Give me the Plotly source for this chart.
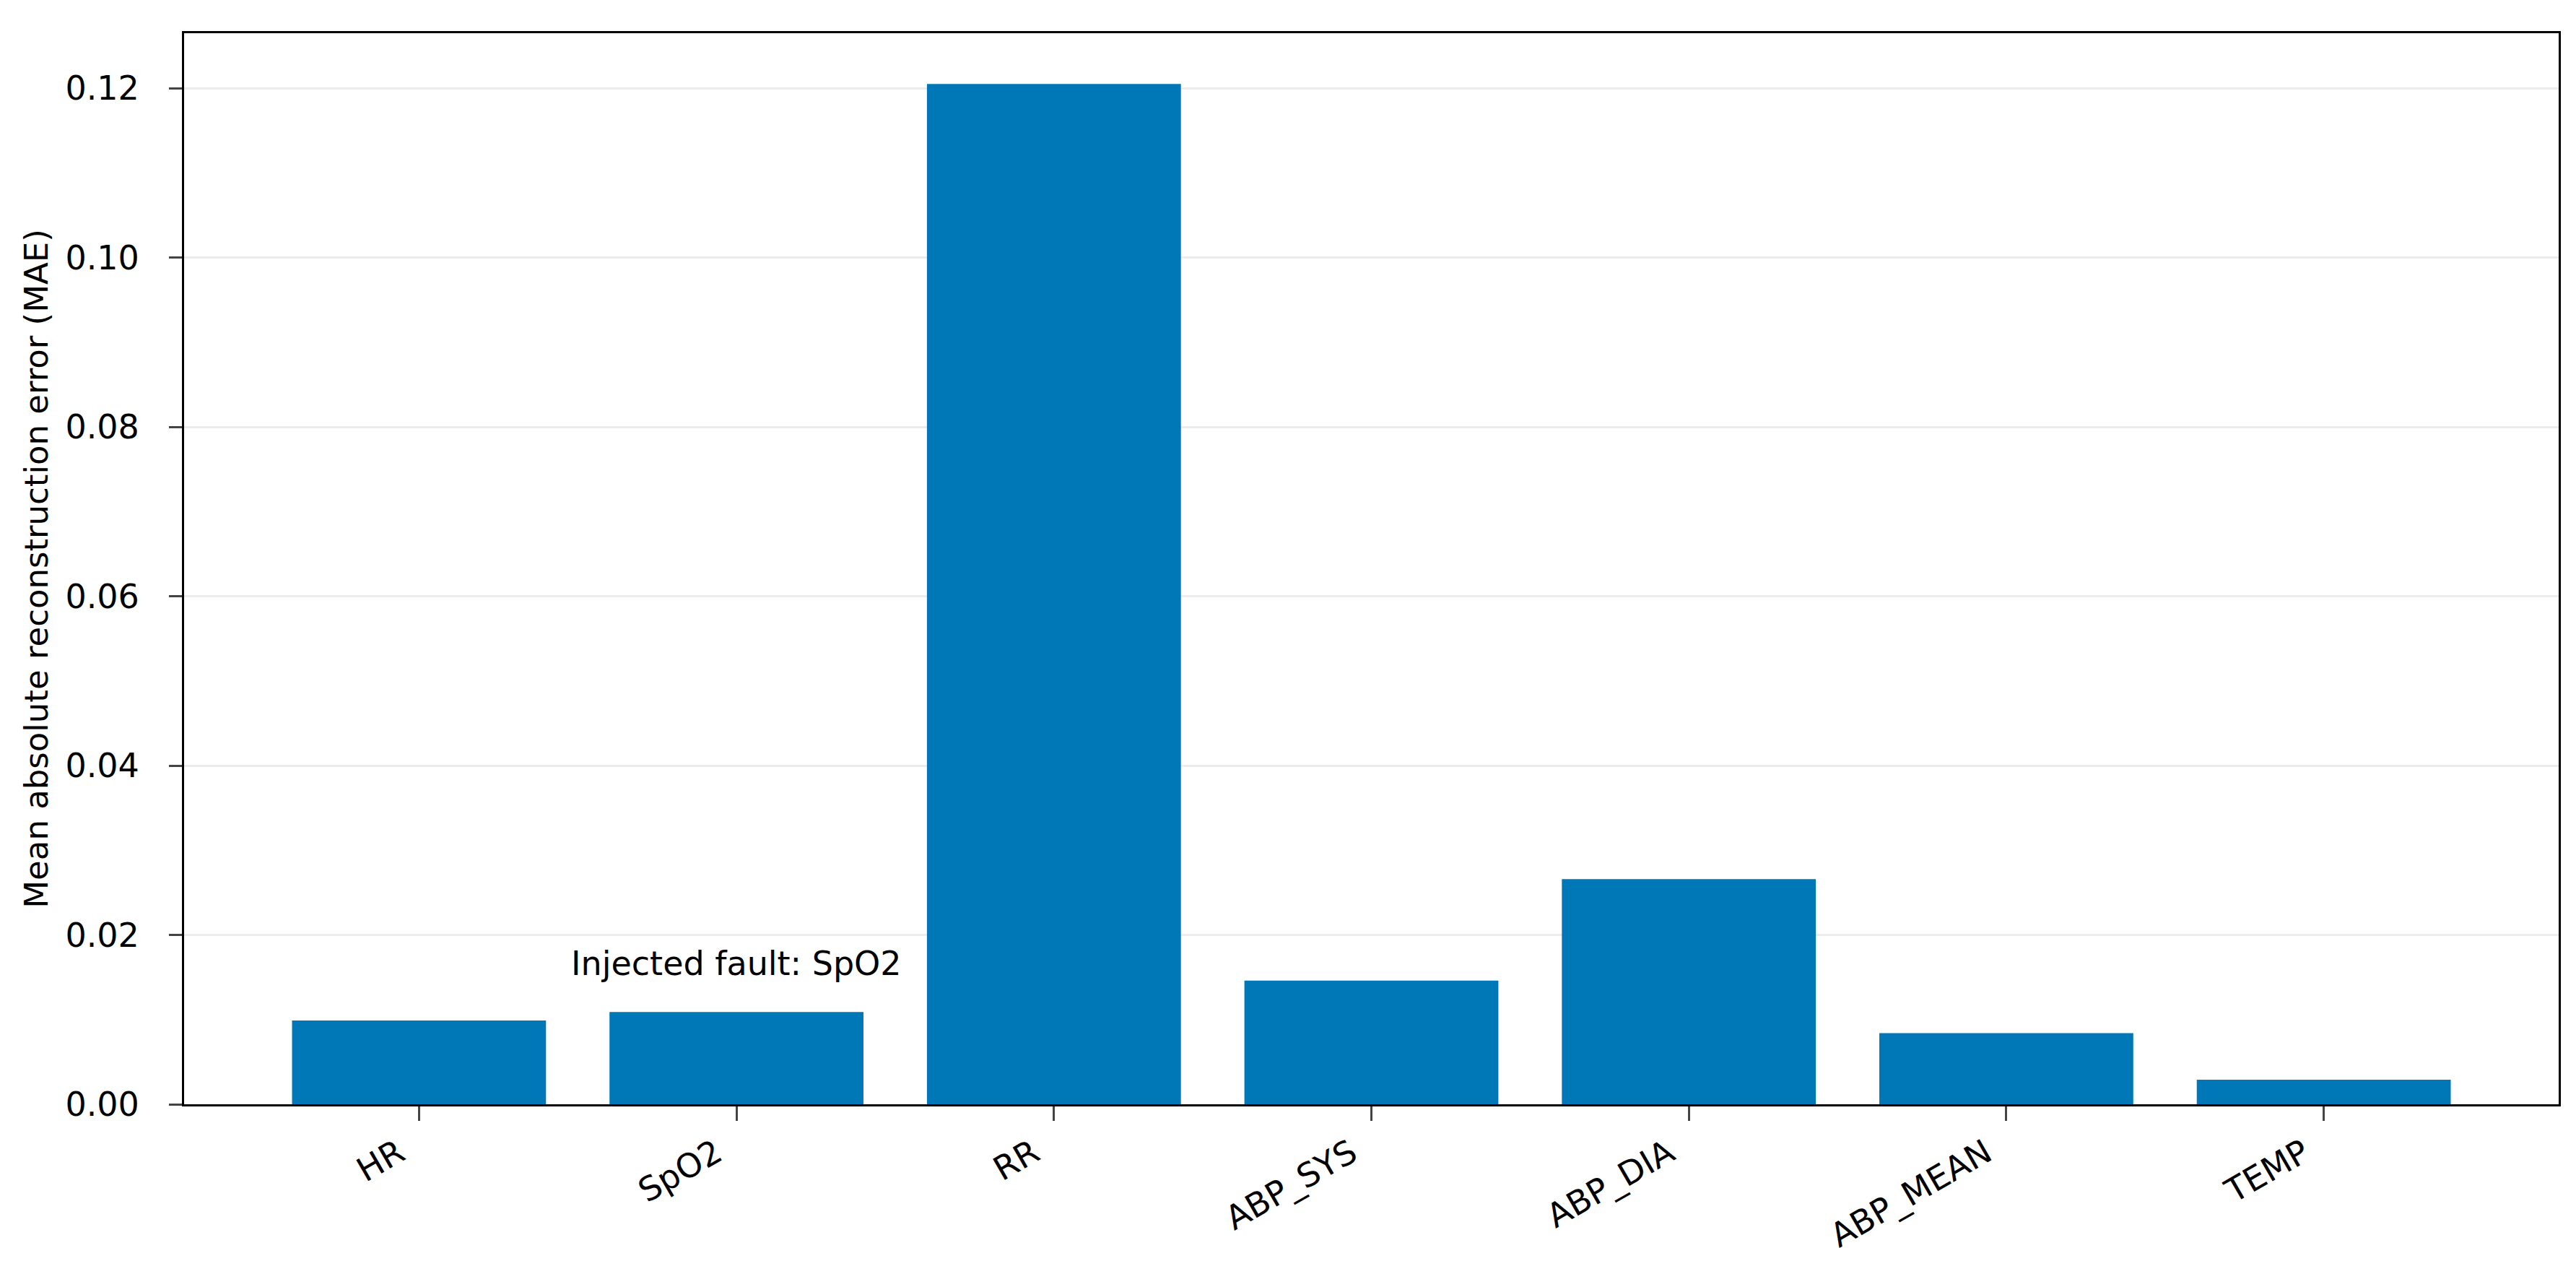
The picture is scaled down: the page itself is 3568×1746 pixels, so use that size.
import plotly.graph_objects as go

# channels and their reconstruction errors
channels = ['HR', 'SpO2', 'RR', 'ABP_SYS', 'ABP_DIA', 'ABP_MEAN', 'TEMP']
mae = [0.0099, 0.0109, 0.1205, 0.0146, 0.0266, 0.0084, 0.0029]
fault_channel = 'SpO2'
y_ticks = [0.00, 0.02, 0.04, 0.06, 0.08, 0.10, 0.12]

font_name = 'DejaVu Sans'
bar_color = '#0077b6'

fig = go.Figure()
fig.add_trace(go.Bar(x=channels, y=mae, marker=dict(color=bar_color, line=dict(width=0)), width=0.8))

i = channels.index(fault_channel)
fig.add_annotation(x=channels[i], y=mae[i], text='Injected fault: ' + fault_channel,
                   showarrow=False, yanchor='bottom', yshift=38,
                   font=dict(family=font_name, size=46, color='black'))

fig.update_layout(
    width=3568, height=1746,
    margin=dict(l=247, r=32, t=38, b=225),
    plot_bgcolor='white', paper_bgcolor='white',
    font=dict(family=font_name, size=46, color='black'),
    showlegend=False,
    bargap=0.2,
)
fig.update_xaxes(range=[-0.74, 6.74], tickangle=-30, ticks='outside', ticklen=20, tickwidth=3,
                 ticklabelshift=-28,
                 showline=True, linecolor='black', linewidth=3, mirror=True, showgrid=False)
fig.update_yaxes(range=[0, 0.1265], tickvals=y_ticks, tickformat='.2f', ticks='outside', ticklen=18,
                 tickwidth=3, ticklabelstandoff=32, showline=True, linecolor='black', linewidth=3,
                 mirror=True, showgrid=True, gridcolor='#ececec', gridwidth=3, zeroline=False,
                 title=dict(text='Mean absolute reconstruction error (MAE)', font=dict(size=45), standoff=10))

fig.write_html('out.html')
